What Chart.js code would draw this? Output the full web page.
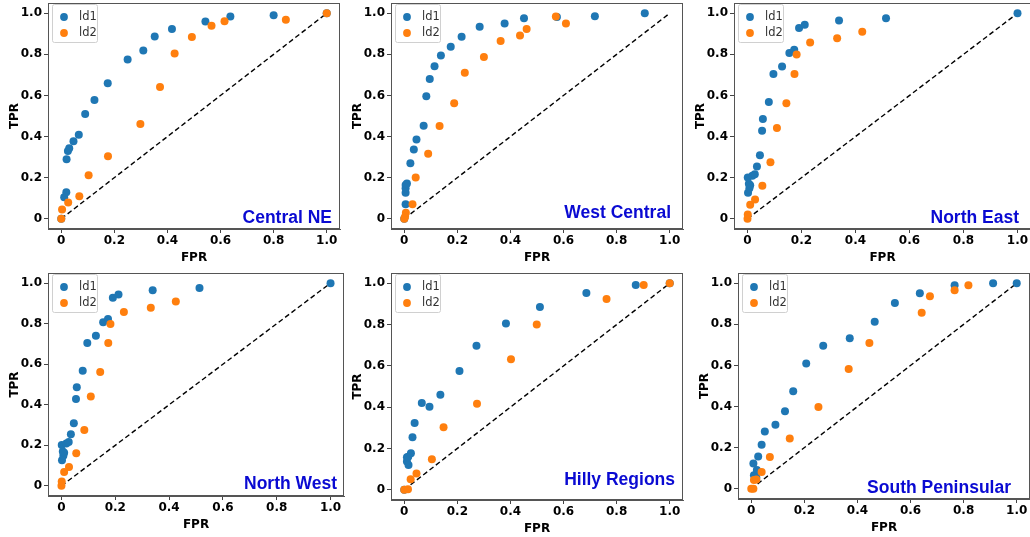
<!DOCTYPE html>
<html>
<head>
<meta charset="utf-8">
<script src="https://cdn.jsdelivr.net/npm/chart.js@4.4.1/dist/chart.umd.min.js"></script>
<style>
  body { margin: 0; background: #fff; width: 1030px; height: 537px; overflow: hidden; position: relative; }
  canvas { position: absolute; }
</style>
</head>
<body>
<canvas id="c1"></canvas>
<canvas id="c2"></canvas>
<canvas id="c3"></canvas>
<canvas id="c4"></canvas>
<canvas id="c5"></canvas>
<canvas id="c6"></canvas>
<script>
// tick labels, shared by both axes of every panel
var tickValues = [0, 0.2, 0.4, 0.6, 0.8, 1.0]
var seriesNames = ['ld1', 'ld2']
var regions = ['Central NE', 'West Central', 'North East', 'North West', 'Hilly Regions', 'South Peninsular']

// [FPR, TPR] points
var centralNE_ld1 = [[0, 0], [0.011, 0.105], [0.019, 0.129], [0.02, 0.29], [0.025, 0.33], [0.03, 0.343],
    [0.046, 0.377], [0.066, 0.409], [0.09, 0.51], [0.125, 0.578], [0.175, 0.659], [0.25, 0.775],
    [0.309, 0.819], [0.352, 0.887], [0.417, 0.924], [0.543, 0.96], [0.637, 0.984], [0.80, 0.99], [1.0, 1.0]]
var centralNE_ld2 = [[0, 0], [0.003, 0.045], [0.026, 0.079], [0.068, 0.11], [0.103, 0.212], [0.176, 0.304],
    [0.298, 0.461], [0.372, 0.641], [0.427, 0.804], [0.492, 0.885], [0.566, 0.939], [0.615, 0.961],
    [0.846, 0.969], [1.0, 1.0]]

var westCentral_ld1 = [[0, 0], [0.005, 0.071], [0.005, 0.126], [0.005, 0.148], [0.005, 0.164], [0.01, 0.171],
    [0.023, 0.27], [0.036, 0.337], [0.046, 0.386], [0.073, 0.452], [0.083, 0.596], [0.096, 0.68],
    [0.114, 0.742], [0.138, 0.794], [0.175, 0.837], [0.216, 0.886], [0.284, 0.934], [0.378, 0.95],
    [0.451, 0.976], [0.575, 0.982], [0.718, 0.985], [0.906, 1.0]]
var westCentral_ld2 = [[0, 0], [0.003, 0.01], [0.006, 0.029], [0.031, 0.071], [0.043, 0.201], [0.09, 0.316],
    [0.133, 0.451], [0.188, 0.562], [0.228, 0.71], [0.3, 0.787], [0.363, 0.865], [0.436, 0.892],
    [0.461, 0.924], [0.571, 0.984], [0.609, 0.95]]

var northEast_ld1 = [[0.002, 0.126], [0.007, 0.148], [0.01, 0.163], [0.005, 0.17], [0.001, 0.201], [0.018, 0.209],
    [0.027, 0.216], [0.035, 0.254], [0.046, 0.309], [0.054, 0.428], [0.057, 0.486], [0.079, 0.568],
    [0.096, 0.705], [0.128, 0.741], [0.155, 0.807], [0.173, 0.823], [0.191, 0.928], [0.212, 0.944],
    [0.339, 0.965], [0.513, 0.976], [1.0, 1.0]]
var northEast_ld2 = [[0, 0], [0.001, 0.021], [0.01, 0.068], [0.028, 0.093], [0.055, 0.161], [0.085, 0.275],
    [0.109, 0.441], [0.144, 0.562], [0.174, 0.705], [0.182, 0.799], [0.232, 0.858], [0.332, 0.879],
    [0.425, 0.91]]

var northWest_ld1 = [[0.002, 0.126], [0.007, 0.148], [0.01, 0.163], [0.005, 0.17], [0.001, 0.201], [0.018, 0.209],
    [0.027, 0.216], [0.035, 0.254], [0.046, 0.309], [0.054, 0.428], [0.057, 0.486], [0.079, 0.568],
    [0.096, 0.705], [0.128, 0.741], [0.155, 0.807], [0.173, 0.823], [0.191, 0.928], [0.212, 0.944],
    [0.339, 0.965], [0.513, 0.976], [1.0, 1.0]]
var northWest_ld2 = [[0, 0], [0.001, 0.021], [0.01, 0.068], [0.028, 0.093], [0.055, 0.161], [0.085, 0.275],
    [0.109, 0.441], [0.144, 0.562], [0.174, 0.705], [0.182, 0.799], [0.232, 0.858], [0.332, 0.879],
    [0.425, 0.91]]

var hilly_ld1 = [[0, 0], [0.016, 0.12], [0.01, 0.136], [0.01, 0.157], [0.015, 0.16], [0.025, 0.176],
    [0.031, 0.254], [0.039, 0.323], [0.095, 0.402], [0.066, 0.42], [0.136, 0.46], [0.208, 0.575],
    [0.272, 0.698], [0.383, 0.805], [0.511, 0.885], [0.686, 0.953], [0.872, 0.992], [1.0, 1.0]]
var hilly_ld2 = [[0, 0], [0.014, 0.002], [0.024, 0.05], [0.046, 0.079], [0.104, 0.147], [0.148, 0.302],
    [0.274, 0.417], [0.402, 0.632], [0.499, 0.801], [0.762, 0.924], [0.902, 0.992], [1.0, 1.0]]

var southPen_ld1 = [[0.019, 0.055], [0.01, 0.065], [0.021, 0.091], [0.008, 0.123], [0.026, 0.157], [0.039, 0.214],
    [0.051, 0.278], [0.091, 0.312], [0.127, 0.377], [0.158, 0.474], [0.207, 0.609], [0.271, 0.696],
    [0.371, 0.732], [0.465, 0.813], [0.541, 0.904], [0.635, 0.951], [0.766, 0.99], [0.911, 1.0], [1.0, 1.0]]
var southPen_ld2 = [[0, 0], [0.008, 0], [0.01, 0.042], [0.019, 0.045], [0.039, 0.081], [0.07, 0.154],
    [0.145, 0.245], [0.253, 0.398], [0.367, 0.583], [0.445, 0.709], [0.642, 0.856], [0.673, 0.937],
    [0.766, 0.966], [0.818, 0.99]]

var diagonal = [[0, 0], [1, 1]]

var blue = '#1f77b4'
var orange = '#ff7f0e'

// plot boxes on the page (left, top, right, bottom) and where the region name sits
var panels = [
    { id: 'c1', box: [48, 3, 340, 229], ld1: centralNE_ld1, ld2: centralNE_ld2, lab: [8, 6] },
    { id: 'c2', box: [391, 3, 683, 229], ld1: westCentral_ld1, ld2: westCentral_ld2, lab: [12, 11] },
    { id: 'c3', box: [734, 3, 1031, 229], ld1: northEast_ld1, ld2: northEast_ld2, lab: [12, 6] },
    { id: 'c4', box: [48, 273, 344, 496], ld1: northWest_ld1, ld2: northWest_ld2, lab: [7, 7] },
    { id: 'c5', box: [391, 273, 683, 500], ld1: hilly_ld1, ld2: hilly_ld2, lab: [8, 15] },
    { id: 'c6', box: [738, 273, 1030, 499], ld1: southPen_ld1, ld2: southPen_ld2, lab: [19, 6] }
]

var YAXIS_W = 48, XAXIS_H = 37, PAD = 4

function pts(arr) {
    return arr.map(function (p) { return { x: p[0], y: p[1] } })
}

// frame, legend box and region name
var decor = {
    id: 'decor',
    afterDraw: function (chart, args, opts) {
        var ctx = chart.ctx, a = chart.chartArea
        ctx.save()
        ctx.strokeStyle = '#555'
        ctx.lineWidth = 1
        ctx.strokeRect(a.left + 0.5, a.top + 0.5, a.right - a.left - 1, a.bottom - a.top - 1)

        // legend
        var lx = a.left + 4, ly = a.top + 1
        ctx.fillStyle = 'rgba(255,255,255,0.8)'
        ctx.strokeStyle = '#d0d0d0'
        ctx.beginPath()
        ctx.roundRect(lx + 0.5, ly + 0.5, 45, 38, 2)
        ctx.fill()
        ctx.stroke()
        var cols = [blue, orange]
        ctx.font = '11.5px "DejaVu Sans"'
        ctx.textBaseline = 'middle'
        for (var i = 0; i < 2; i++) {
            var cy = ly + 13 + i * 16
            ctx.fillStyle = cols[i]
            ctx.beginPath()
            ctx.arc(lx + 12, cy, 3.9, 0, Math.PI * 2)
            ctx.fill()
            ctx.fillStyle = '#333'
            ctx.fillText(seriesNames[i], lx + 27, cy)
        }

        // region name
        ctx.font = 'bold 17.5px "Liberation Sans"'
        ctx.fillStyle = '#0a0ad2'
        ctx.textAlign = 'right'
        ctx.textBaseline = 'alphabetic'
        ctx.fillText(opts.name, a.right - opts.dx, a.bottom - opts.dy)
        ctx.restore()
    }
}

function axis(title, isX) {
    return {
        type: 'linear',
        min: -0.05,
        max: 1.05,
        afterBuildTicks: function (ax) {
            ax.ticks = tickValues.map(function (v) { return { value: v } })
        },
        afterFit: function (ax) {
            if (isX) {
                ax.height = XAXIS_H
                ax.paddingLeft = 0
                ax.paddingRight = 0
            } else {
                ax.width = YAXIS_W
                ax.paddingTop = 0
                ax.paddingBottom = 0
            }
        },
        grid: { drawOnChartArea: false, drawTicks: true, tickLength: 4, color: '#444', tickWidth: 1 },
        border: { display: true, color: '#555' },
        ticks: {
            color: '#000',
            padding: isX ? 1 : 2,
            maxRotation: 0,
            autoSkip: false,
            font: { family: '"DejaVu Sans"', weight: 'bold', size: 12 },
            callback: function (v) { return v === 0 ? '0' : v.toFixed(1) }
        },
        title: {
            display: true,
            text: title,
            color: '#000',
            padding: isX ? { top: 0, bottom: 1 } : { top: 8, bottom: 0 },
            font: { family: '"DejaVu Sans"', weight: 'bold', size: 12 }
        }
    }
}

panels.forEach(function (p, i) {
    var b = p.box
    var cv = document.getElementById(p.id)
    var w = (b[2] - b[0]) + YAXIS_W + PAD
    var h = (b[3] - b[1]) + PAD + XAXIS_H
    cv.width = w
    cv.height = h
    cv.style.left = (b[0] - YAXIS_W) + 'px'
    cv.style.top = (b[1] - PAD) + 'px'
    cv.style.width = w + 'px'
    cv.style.height = h + 'px'

    new Chart(cv.getContext('2d'), {
        type: 'scatter',
        data: {
            datasets: [
                { label: 'ld2', data: pts(p.ld2), backgroundColor: orange, borderWidth: 0, pointRadius: 4, order: 1 },
                { label: 'ld1', data: pts(p.ld1), backgroundColor: blue, borderWidth: 0, pointRadius: 4, order: 2 },
                { label: 'diag', data: pts(diagonal), showLine: true, borderColor: '#000', borderWidth: 1.4,
                  borderDash: [5, 3], pointRadius: 0, fill: false, order: 3 }
            ]
        },
        options: {
            responsive: false,
            animation: false,
            devicePixelRatio: 1,
            layout: { padding: { top: PAD, right: PAD, left: 0, bottom: 0 } },
            plugins: {
                legend: { display: false },
                tooltip: { enabled: false },
                decor: { name: regions[i], dx: p.lab[0], dy: p.lab[1] }
            },
            scales: {
                x: axis('FPR', true),
                y: axis('TPR', false)
            }
        },
        plugins: [decor]
    })
})
</script>
</body>
</html>
